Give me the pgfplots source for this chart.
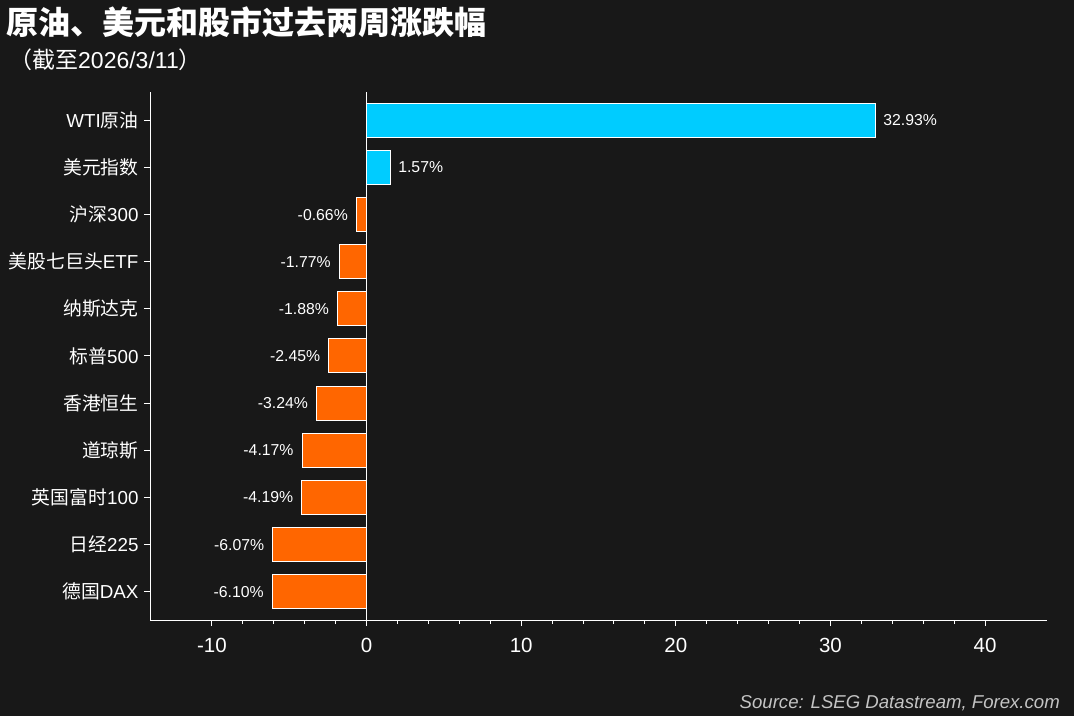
\documentclass[border=0pt]{standalone}
\usepackage{pgfplots}
\pgfplotsset{compat=1.18}
\usepackage{pgfplotstable}
\usepackage{fontspec}
\setmainfont{Liberation Sans}
\newfontfamily\cjk{Noto Sans CJK SC}
\definecolor{bg}{HTML}{181818}
\definecolor{cyanbar}{HTML}{00CCFF}
\definecolor{orangebar}{HTML}{FF6600}
\definecolor{srcgray}{HTML}{C4C4C4}

\pgfplotstableread{
y x lab
10 32.93 32.93\%
9 1.57 1.57\%
}\postab
\pgfplotstableread{
y x lab
8 -0.66 -0.66\%
7 -1.77 -1.77\%
6 -1.88 -1.88\%
5 -2.45 -2.45\%
4 -3.24 -3.24\%
3 -4.17 -4.17\%
2 -4.19 -4.19\%
1 -6.07 -6.07\%
0 -6.10 -6.10\%
}\negtab

\begin{document}
\begin{tikzpicture}[x=1pt,y=1pt]
\fill[bg] (0,0) rectangle (1074,716);
\useasboundingbox (0,0) rectangle (1074,716);
\node[anchor=west, text=white, inner sep=0pt, font=\cjk\bfseries\fontsize{32}{32}\selectfont] at (6,694) {原油、美元和股市过去两周涨跌幅};
\node[anchor=west, text=white, inner sep=0pt, font=\fontsize{23}{23}\selectfont] at (9,656) {{\cjk （截至}2026/3/11{\cjk ）}};
\node[anchor=east, text=srcgray, inner sep=0pt, font=\itshape\fontsize{18.6}{18.6}\selectfont] at (1060,13) {Source: LSEG Datastream, Forex.com};
\begin{axis}[
  at={(150pt,96pt)}, anchor=south west,
  scale only axis, width=897pt, height=528pt,
  xmin=-14, xmax=44, ymin=-0.6, ymax=10.6,
  axis lines*=left,
  axis line style={white, line width=1pt},
  xtick={-10,0,10,20,30,40},
  xticklabels={-10,0,10,20,30,40},
  minor x tick num=4,
  ytick={0,1,2,3,4,5,6,7,8,9,10},
  yticklabels={{{\cjk 德国}DAX},{{\cjk 日经}225},{{\cjk 英国富时}100},{{\cjk 道琼斯}},{{\cjk 香港恒生}},{{\cjk 标普}500},{{\cjk 纳斯达克}},{{\cjk 美股七巨头}ETF},{{\cjk 沪深}300},{{\cjk 美元指数}},{WTI{\cjk 原油}}},
  tick align=outside,
  major tick length=6pt, minor tick length=4pt,
  every tick/.style={white, line width=1pt},
  minor tick style={white, line width=1pt},
  xticklabel style={font=\fontsize{20.5}{20.5}\selectfont, text=white, yshift=-9pt},
  yticklabel style={font=\fontsize{18.8}{18.8}\selectfont, text=white, xshift=-2pt},
  clip=false,
]
\addplot[xbar, bar shift=0pt, bar width=34pt, fill=cyanbar, draw=white, line width=1pt,
  point meta=explicit symbolic, nodes near coords,
  nodes near coords style={anchor=west, text=white, inner sep=0pt, xshift=7pt, font=\fontsize{15.8}{15.8}\selectfont}]
  table[x=x, y=y, meta=lab] {\postab};
\addplot[xbar, bar shift=0pt, bar width=34pt, fill=orangebar, draw=white, line width=1pt,
  point meta=explicit symbolic, nodes near coords,
  nodes near coords style={anchor=east, text=white, inner sep=0pt, xshift=-8pt, font=\fontsize{15.8}{15.8}\selectfont}]
  table[x=x, y=y, meta=lab] {\negtab};
\addplot[white, line width=1pt, mark=none] coordinates {(0,-0.6) (0,10.6)};
\end{axis}
\end{tikzpicture}
\end{document}
